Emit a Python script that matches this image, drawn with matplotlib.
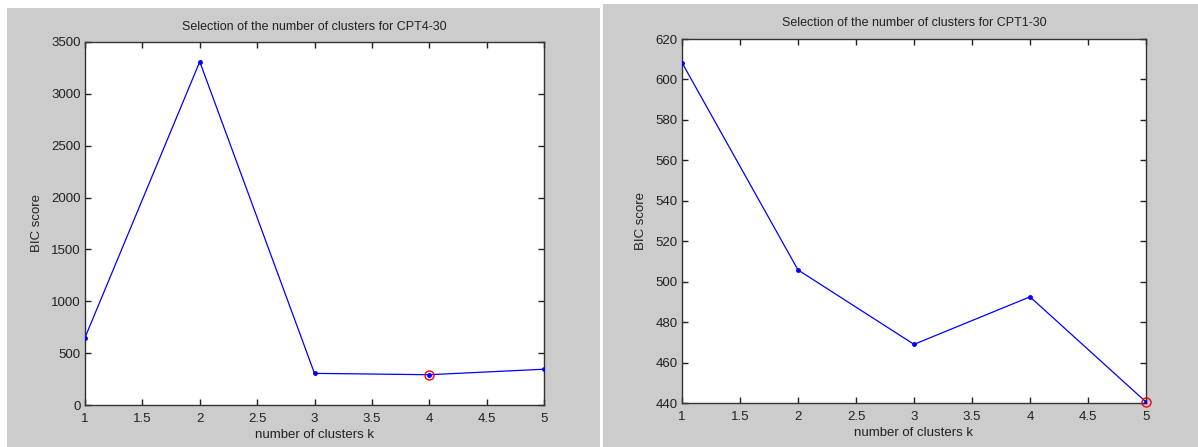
import matplotlib
matplotlib.use("Agg")
import matplotlib.pyplot as plt
from matplotlib.patches import Rectangle

plt.rcParams['font.family'] = ['Liberation Sans', 'DejaVu Sans']

k = [1, 2, 3, 4, 5]
bic_cpt4 = [650, 3310, 305, 292, 345]
bic_cpt1 = [608.3, 505.8, 469.0, 492.5, 440.5]
best_cpt4 = 4
best_cpt1 = 5

titles = ["Selection of the number of clusters for CPT4-30",
          "Selection of the number of clusters for CPT1-30"]
xticks = [1, 1.5, 2, 2.5, 3, 3.5, 4, 4.5, 5]
yticks_cpt4 = [0, 500, 1000, 1500, 2000, 2500, 3000, 3500]
yticks_cpt1 = [440, 460, 480, 500, 520, 540, 560, 580, 600, 620]

fig = plt.figure(figsize=(11.98, 4.47), dpi=100)
fig.patch.set_facecolor('white')

# grey matlab figure backgrounds
grey = '#cccccc'
fig.add_artist(Rectangle((7/1198, 0), 593/1198, 439/447, transform=fig.transFigure,
                         facecolor=grey, edgecolor='none', zorder=0))
fig.add_artist(Rectangle((603/1198, 0), 595/1198, 443/447, transform=fig.transFigure,
                         facecolor=grey, edgecolor='none', zorder=0))

ax1 = fig.add_axes([85/1198, 42/447, 459/1198, 363/447])
ax2 = fig.add_axes([682/1198, 44/447, 464/1198, 364/447])


def style(ax, y, best, yticks, title):
    ax.plot(k, y, color='blue', lw=0.9, marker='.', ms=5, zorder=3)
    i = k.index(best)
    ax.plot(k[i], y[i], marker='o', ms=6.5, mfc='none', mec='red', mew=1, zorder=4)
    ax.set_xlim(1, 5)
    ax.set_ylim(yticks[0], yticks[-1])
    ax.set_xticks(xticks)
    ax.set_xticklabels(['1', '1.5', '2', '2.5', '3', '3.5', '4', '4.5', '5'])
    ax.set_yticks(yticks)
    ax.tick_params(direction='in', length=4, width=1, top=True, right=True,
                   labelsize=9.5, colors='#222222', pad=3)
    ax.tick_params(axis='x', pad=6)
    for s in ax.spines.values():
        s.set_color('#333333')
        s.set_linewidth(1)
    ax.set_facecolor('white')
    ax.set_title(title, fontsize=9, color='#222222', pad=9)
    ax.set_xlabel("number of clusters k", fontsize=9.5, color='#222222', labelpad=3)
    ax.set_ylabel("BIC score", fontsize=9.5, color='#222222', labelpad=6)


style(ax1, bic_cpt4, best_cpt4, yticks_cpt4, titles[0])
style(ax2, bic_cpt1, best_cpt1, yticks_cpt1, titles[1])
ax2.lines[1].set_clip_on(False)

fig.savefig("out.png", dpi=100, facecolor=fig.get_facecolor())
